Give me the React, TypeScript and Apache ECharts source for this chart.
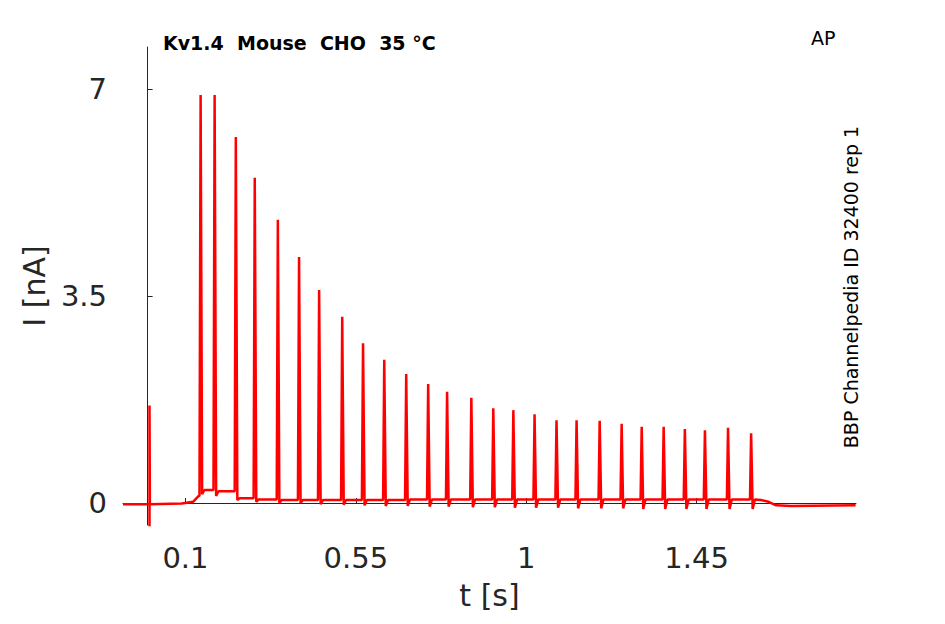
import React, { useEffect, useRef } from "react";
import * as echarts from "echarts";

const xTicks = [0.1, 0.55, 1, 1.45];
const yTicks = [0, 3.5, 7];
const spikeTimes = [0.140, 0.177, 0.233, 0.283, 0.344, 0.400, 0.453, 0.514, 0.569, 0.625, 0.683, 0.741, 0.791, 0.855, 0.913, 0.966, 1.022, 1.080, 1.133, 1.194, 1.252, 1.305, 1.363, 1.419, 1.472, 1.533, 1.594];
const spikePeaks = [6.9, 6.9, 6.19, 5.5, 4.79, 4.16, 3.6, 3.15, 2.7, 2.42, 2.18, 2.01, 1.88, 1.78, 1.6, 1.57, 1.5, 1.4, 1.4, 1.39, 1.34, 1.29, 1.29, 1.25, 1.23, 1.27, 1.18];
const spikeDips = [0.15, 0.12, 0.05, 0.02, 0, 0, -0.02, -0.03, -0.04, -0.05, -0.05, -0.06, -0.06, -0.07, -0.07, -0.08, -0.08, -0.08, -0.09, -0.09, -0.09, -0.1, -0.1, -0.1, -0.1, -0.1, -0.1];
const spikeBase = [0.22, 0.2, 0.08, 0.06, 0.05, 0.05, 0.05, 0.05, 0.05, 0.05, 0.06, 0.06, 0.06, 0.06, 0.06, 0.06, 0.06, 0.06, 0.06, 0.06, 0.06, 0.06, 0.06, 0.06, 0.06, 0.06, 0.06];
const artifact = { t: 0.005, low: -1.2, high: 1.65 };
const preTrace: [number, number][] = [[-0.065, -0.02], [0.005, -0.02], [0.09, -0.01], [0.12, 0.02], [0.135, 0.12]];
const postTrace: [number, number][] = [[1.62, 0.05], [1.64, 0.02], [1.66, -0.04], [1.7, -0.05], [1.87, -0.04]];

export default function App() {
  const ref = useRef<HTMLDivElement>(null);
  useEffect(() => {
    const chart = echarts.init(ref.current!, null, { renderer: "svg" });
    const data: [number, number][] = [];
    for (const p of preTrace) {
      data.push(p);
      if (p[0] === artifact.t) {
        data.push([artifact.t, artifact.low], [artifact.t, artifact.high], [artifact.t + 0.001, -0.02]);
      }
    }
    spikeTimes.forEach((t, i) => {
      const prevBase = i === 0 ? 0.12 : spikeBase[i - 1];
      data.push([t - 0.003, prevBase], [t, spikePeaks[i]], [t + 0.004, spikeDips[i]], [t + 0.01, spikeBase[i]]);
    });
    for (const p of postTrace) data.push(p);
    const font = "DejaVu Sans";
    chart.setOption({
      animation: false,
      textStyle: { fontFamily: font },
      grid: { left: 123, right: 89, top: 47, bottom: 99 },
      title: {
        text: "Kv1.4  Mouse  CHO  35 °C",
        left: 158, top: 28,
        textStyle: { fontSize: 19, fontWeight: "bold", color: "#000", fontFamily: font },
      },
      graphic: [
        { type: "text", left: 811, top: 28, style: { text: "AP", fontSize: 19, fill: "#000", fontFamily: font } },
        { type: "text", x: 860, y: 287, rotation: Math.PI / 2, style: { text: "BBP Channelpedia ID 32400 rep 1", fontSize: 19, fill: "#000", fontFamily: font, align: "center", verticalAlign: "bottom" } },
      ],
      xAxis: {
        type: "value", min: -0.065, max: 1.871,
        name: "t [s]", nameLocation: "middle", nameGap: 55,
        nameTextStyle: { fontSize: 30, color: "#262626" },
        axisLine: { lineStyle: { color: "#262626" } },
        axisTick: { show: true, inside: true, customValues: xTicks, lineStyle: { color: "#262626" } },
        axisLabel: { customValues: xTicks, fontSize: 29, color: "#262626", margin: 18 },
        splitLine: { show: false },
      },
      yAxis: {
        type: "value", min: -0.372, max: 7.71,
        name: "I [nA]", nameLocation: "middle", nameGap: 70,
        nameTextStyle: { fontSize: 30, color: "#262626" },
        axisLine: { show: true, lineStyle: { color: "#262626" } },
        axisTick: { show: true, inside: true, customValues: yTicks, lineStyle: { color: "#262626" } },
        axisLabel: { customValues: yTicks, fontSize: 29, color: "#262626", margin: 16 },
        splitLine: { show: false },
      },
      series: [{ type: "line", data, showSymbol: false, lineStyle: { color: "#ff0000", width: 2.5 } }],
    });
    return () => chart.dispose();
  }, []);
  return <div ref={ref} style={{ width: 945, height: 624, position: "absolute", left: 0, top: 0 }} />;
}
